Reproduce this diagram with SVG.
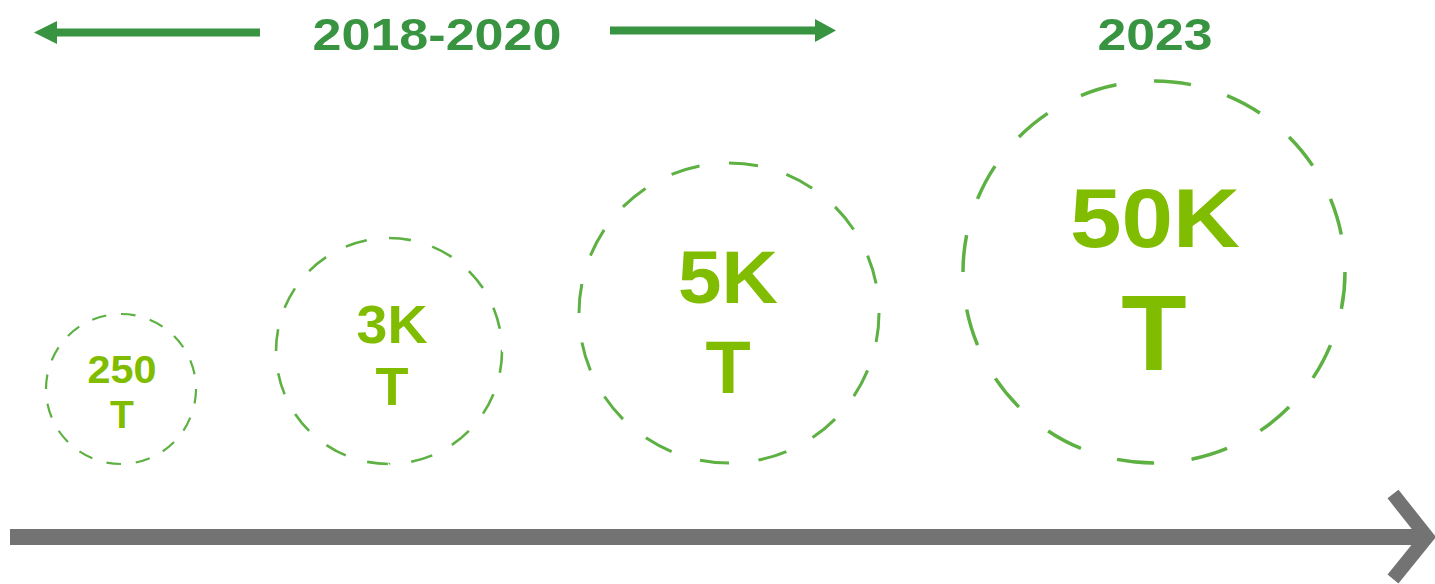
<svg xmlns="http://www.w3.org/2000/svg" width="1435" height="584" viewBox="0 0 1435 584">
<style>
.hdr{font-family:"Liberation Sans",Arial,sans-serif;font-weight:bold;fill:#389441;text-anchor:middle}
.val{font-family:"Liberation Sans",Arial,sans-serif;font-weight:bold;fill:#80bc00;text-anchor:middle}
.ring{fill:none;stroke:#5db142;stroke-dasharray:3.1 3.15}
</style>
<rect width="1435" height="584" fill="#ffffff"/>
<g id="connectors">
  <path d="M260 32.5 H56" stroke="#389441" stroke-width="8" fill="none"/>
  <polygon points="34,32.5 57,21 57,44" fill="#389441"/>
  <path d="M610 30.5 H816" stroke="#389441" stroke-width="8" fill="none"/>
  <polygon points="836,30.5 815,19 815,42" fill="#389441"/>
  <path d="M10 537 H1418" stroke="#737373" stroke-width="16" fill="none"/>
  <path d="M1393 494 L1427 537 L1393 579" stroke="#737373" stroke-width="14" fill="none" stroke-linejoin="miter"/>
</g>
<g id="header-2018-2020"><text class="hdr" x="437" y="50" font-size="45" textLength="249" lengthAdjust="spacingAndGlyphs">2018-2020</text></g>
<g id="header-2023"><text class="hdr" x="1155" y="50" font-size="45" textLength="115" lengthAdjust="spacingAndGlyphs">2023</text></g>
<g id="node-250">
  <circle class="ring" cx="121" cy="389" r="75" stroke-width="2.2" pathLength="100"/>
  <text class="val" x="122" y="383" font-size="39" textLength="69" lengthAdjust="spacingAndGlyphs">250</text>
  <text class="val" x="122" y="428" font-size="39">T</text>
</g>
<g id="node-3k">
  <circle class="ring" cx="389" cy="351" r="113" stroke-width="2.6" pathLength="100"/>
  <text class="val" x="392" y="343" font-size="54" textLength="71" lengthAdjust="spacingAndGlyphs">3K</text>
  <text class="val" x="392" y="405" font-size="54">T</text>
</g>
<g id="node-5k">
  <circle class="ring" cx="729" cy="313" r="150" stroke-width="3" pathLength="100"/>
  <text class="val" x="728" y="303" font-size="74" textLength="100" lengthAdjust="spacingAndGlyphs">5K</text>
  <text class="val" x="728" y="393" font-size="74">T</text>
</g>
<g id="node-50k">
  <circle class="ring" cx="1154" cy="272" r="191" stroke-width="3.5" pathLength="100"/>
  <text class="val" x="1155" y="247" font-size="84" textLength="170" lengthAdjust="spacingAndGlyphs">50K</text>
  <text class="val" x="1154" y="370" font-size="107">T</text>
</g>
</svg>
